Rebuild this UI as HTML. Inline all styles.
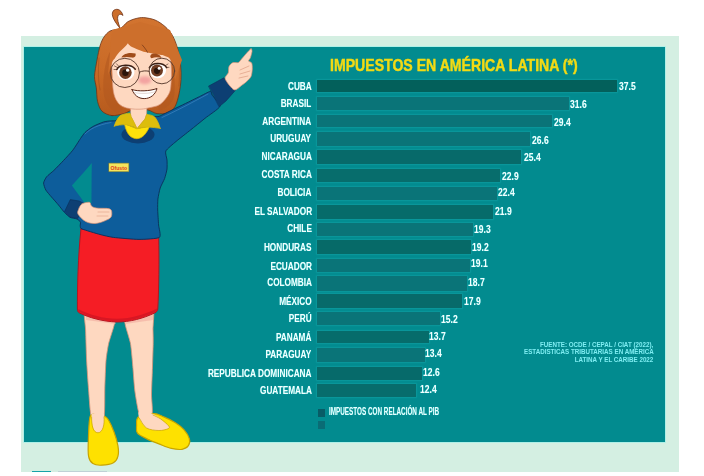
<!DOCTYPE html>
<html><head><meta charset="utf-8"><style>
*{margin:0;padding:0;box-sizing:border-box}
html,body{width:704px;height:476px;overflow:hidden;background:#fff;font-family:"Liberation Sans", sans-serif}
#outer{position:absolute;left:21.1px;top:35.6px;width:657.6px;height:436.2px;background:#d4efe2}
#panel{position:absolute;left:23.9px;top:46.7px;width:641.3px;height:395.6px;background:#028b8f;box-shadow:0 0 0 .8px rgba(150,240,235,.75)}
.bar{position:absolute;left:317px;background:#07716f;box-shadow:0 0 1.2px .6px rgba(25,170,175,.45)}
.lbl{position:absolute;right:392.4px;height:0;line-height:0;white-space:nowrap;font-weight:bold;font-size:10.3px;color:#f2ffff;text-shadow:0 0 1px rgba(110,255,255,.55);transform:scaleX(.80);transform-origin:right center}
.val{position:absolute;height:0;line-height:0;white-space:nowrap;font-weight:bold;font-size:10.3px;color:#f2ffff;text-shadow:0 0 1px rgba(110,255,255,.55);transform:scaleX(.83);transform-origin:left center}
#title{position:absolute;left:330px;top:64.82px;height:0;line-height:0;white-space:nowrap;font-weight:bold;font-size:16.4px;color:#f2da14;-webkit-text-stroke:.45px #f2da14;transform:scaleX(.86);transform-origin:left center}
.src{position:absolute;right:50.4px;height:0;line-height:0;white-space:nowrap;font-weight:bold;font-size:7px;color:#7eedf2;transform:scaleX(.89);transform-origin:right center}
#leg{position:absolute;left:328.9px;top:412.00px;height:0;line-height:0;white-space:nowrap;font-weight:bold;font-size:10.4px;color:#eaffff;text-shadow:0 0 1px rgba(110,255,255,.5);transform:scaleX(.61);transform-origin:left center}
.sq{position:absolute;left:317.5px;width:7.5px;height:8px}
svg{position:absolute;left:0;top:0}
</style></head><body>
<div id="outer"></div>
<div id="panel"></div>
<div id="title">IMPUESTOS EN AMÉRICA LATINA (*)</div>
<div class="bar" style="top:80px;height:12px;width:300.0px;background:#03605b"></div>
<div class="lbl" style="top:86.63px">CUBA</div>
<div class="val" style="top:87.08px;left:619.1px">37.5</div>
<div class="bar" style="top:97px;height:13px;width:251.9px;background:#0a7478"></div>
<div class="lbl" style="top:103.83px">BRASIL</div>
<div class="val" style="top:104.53px;left:570.2px">31.6</div>
<div class="bar" style="top:115px;height:12px;width:235.2px;background:#0a7478"></div>
<div class="lbl" style="top:122.23px">ARGENTINA</div>
<div class="val" style="top:123.01px;left:553.5px">29.4</div>
<div class="bar" style="top:132px;height:14px;width:213.0px;background:#0a7478"></div>
<div class="lbl" style="top:138.63px">URUGUAY</div>
<div class="val" style="top:140.98px;left:531.8px">26.6</div>
<div class="bar" style="top:150px;height:14px;width:203.6px;background:#076a6a"></div>
<div class="lbl" style="top:157.23px">NICARAGUA</div>
<div class="val" style="top:157.98px;left:523.5px">25.4</div>
<div class="bar" style="top:169px;height:13px;width:182.8px;background:#076d6c"></div>
<div class="lbl" style="top:174.63px">COSTA RICA</div>
<div class="val" style="top:176.83px;left:502.3px">22.9</div>
<div class="bar" style="top:187px;height:13px;width:179.8px;background:#0a7478"></div>
<div class="lbl" style="top:193.23px">BOLICIA</div>
<div class="val" style="top:193.13px;left:498.3px">22.4</div>
<div class="bar" style="top:205px;height:14px;width:176.2px;background:#066b6a"></div>
<div class="lbl" style="top:211.83px">EL SALVADOR</div>
<div class="val" style="top:211.53px;left:494.8px">21.9</div>
<div class="bar" style="top:223px;height:13px;width:156.3px;background:#0a7478"></div>
<div class="lbl" style="top:229.43px">CHILE</div>
<div class="val" style="top:229.58px;left:474.1px">19.3</div>
<div class="bar" style="top:240px;height:14px;width:154.1px;background:#066a68"></div>
<div class="lbl" style="top:247.93px">HONDURAS</div>
<div class="val" style="top:247.73px;left:472.0px">19.2</div>
<div class="bar" style="top:259px;height:13px;width:153.0px;background:#0a7478"></div>
<div class="lbl" style="top:267.03px">ECUADOR</div>
<div class="val" style="top:264.48px;left:471.4px">19.1</div>
<div class="bar" style="top:276px;height:15px;width:150.2px;background:#0a7478"></div>
<div class="lbl" style="top:283.43px">COLOMBIA</div>
<div class="val" style="top:283.48px;left:467.8px">18.7</div>
<div class="bar" style="top:294px;height:14px;width:144.7px;background:#076a6a"></div>
<div class="lbl" style="top:302.03px">MÉXICO</div>
<div class="val" style="top:301.53px;left:463.9px">17.9</div>
<div class="bar" style="top:312px;height:13px;width:122.7px;background:#0a7478"></div>
<div class="lbl" style="top:318.83px">PERÚ</div>
<div class="val" style="top:319.58px;left:440.7px">15.2</div>
<div class="bar" style="top:331px;height:12px;width:111.6px;background:#066c6b"></div>
<div class="lbl" style="top:338.03px">PANAMÁ</div>
<div class="val" style="top:337.18px;left:428.7px">13.7</div>
<div class="bar" style="top:348px;height:14px;width:108.2px;background:#0a7478"></div>
<div class="lbl" style="top:354.83px">PARAGUAY</div>
<div class="val" style="top:354.28px;left:425.4px">13.4</div>
<div class="bar" style="top:367px;height:13px;width:104.5px;background:#066a6a"></div>
<div class="lbl" style="top:373.63px">REPUBLICA DOMINICANA</div>
<div class="val" style="top:372.88px;left:423.1px">12.6</div>
<div class="bar" style="top:384px;height:13px;width:98.8px;background:#076c6c"></div>
<div class="lbl" style="top:391.03px">GUATEMALA</div>
<div class="val" style="top:390.18px;left:419.9px">12.4</div>
<div class="src" style="top:344.57px">FUENTE: OCDE / CEPAL / CIAT (2022),</div>
<div class="src" style="top:352.07px">ESTADISTICAS TRIBUTARIAS EN AMÉRICA</div>
<div class="src" style="top:359.77px">LATINA Y EL CARIBE 2022</div>
<div class="sq" style="top:408.7px;background:#085c66"></div>
<div class="sq" style="top:420.7px;background:#0a6c75"></div>
<div id="leg">IMPUESTOS CON RELACIÓN AL PIB</div>
<div style="position:absolute;left:31.5px;top:470.8px;width:19px;height:1.6px;background:#16a3a8"></div>
<div style="position:absolute;left:57.5px;top:470.8px;width:49px;height:1.4px;background:#b9cbd3;opacity:.8"></div>
<svg width="704" height="476" viewBox="0 0 704 476">
<defs><linearGradient id="hg" x1="0" y1="0" x2="0" y2="1"><stop offset="0" stop-color="#d27430"/><stop offset=".55" stop-color="#c96a26"/><stop offset="1" stop-color="#b65a1d"/></linearGradient><filter id="bl" x="-50%" y="-50%" width="200%" height="200%"><feGaussianBlur stdDeviation="1.6"/></filter></defs>
<g stroke-linejoin="round" stroke-linecap="round">
<path d="M85.0,300.0 C88.0,297.0 112.5,297.7 115.5,300.0 C118.5,302.3 115.2,319.0 114.5,323.4 C113.8,327.8 109.4,339.9 108.6,343.6 C107.8,347.3 106.4,356.0 106.0,360.4 C105.6,364.8 105.0,382.2 104.8,388.0 C104.6,393.8 105.1,415.0 103.8,418.0 C102.5,421.0 93.1,420.8 91.6,418.0 C90.1,415.2 89.1,395.8 88.6,390.0 C88.1,384.2 86.9,366.0 86.6,360.0 C86.3,354.0 85.8,336.0 85.6,330.0 C85.4,324.0 82.0,303.0 85.0,300.0Z" fill="#fed8c0" stroke="#d89478" stroke-width=".8"/>
<path d="M124.0,300.0 C126.8,297.7 149.6,297.0 152.5,300.0 C155.4,303.0 152.9,325.6 153.0,330.0 C153.1,334.4 153.3,339.4 153.2,343.6 C153.1,347.8 152.5,366.9 152.3,372.0 C152.1,377.1 151.5,390.8 151.5,395.0 C151.5,399.2 153.1,411.8 152.0,414.0 C150.9,416.2 141.9,419.2 140.2,417.0 C138.5,414.8 135.7,396.8 135.0,392.0 C134.3,387.2 133.4,373.6 133.0,368.8 C132.6,364.0 131.3,348.1 130.5,343.6 C129.7,339.1 125.7,327.8 125.0,323.4 C124.3,319.0 121.2,302.3 124.0,300.0Z" fill="#fed8c0" stroke="#d89478" stroke-width=".8"/>
<path d="M90.2,416.3 C88.8,420.2 88.7,431.9 88.4,438.6 C88.1,445.3 87.8,452.2 88.6,456.4 C89.3,460.6 90.7,462.1 92.9,463.6 C95.1,465.1 98.4,465.4 101.8,465.2 C105.2,465.0 110.7,464.2 113.4,462.7 C116.1,461.2 117.2,459.2 117.9,456.4 C118.7,453.6 118.6,449.8 117.9,445.7 C117.2,441.6 115.6,436.3 114.0,432.0 C112.4,427.7 110.1,422.6 108.5,420.0 C106.9,417.4 106.4,417.1 104.5,416.3 C102.6,415.5 99.4,415.0 97.0,415.0 C94.6,415.0 91.6,412.4 90.2,416.3Z" fill="#fee100" stroke="#c8a400" stroke-width="1.2"/>
<path d="M91.5,414 L104,414 C105,424 103,432.5 98,432.8 C93,432.5 91.5,424 91.5,414Z" fill="#fed8c0"/>
<path d="M91.6,417 C91.6,426 93,432.5 98,432.8 C103,432.5 104.8,424 104,417" fill="none" stroke="#c8a400" stroke-width=".7"/>
<path d="M138.4,417.1 C135.6,419.2 136.8,423.3 136.6,426.0 C136.4,428.7 135.9,431.1 137.5,433.2 C139.1,435.3 142.8,436.8 146.4,438.6 C150.0,440.4 154.7,442.3 158.9,443.9 C163.1,445.5 167.5,447.5 171.4,448.4 C175.3,449.3 179.3,449.8 182.1,449.3 C184.9,448.9 187.2,447.5 188.4,445.7 C189.6,443.9 190.1,441.3 189.3,438.6 C188.6,435.9 186.3,432.3 183.9,429.6 C181.5,426.9 178.3,424.6 175.0,422.5 C171.7,420.4 167.9,418.6 164.3,417.1 C160.7,415.6 157.9,413.6 153.6,413.6 C149.3,413.6 141.2,415.0 138.4,417.1Z" fill="#fee100" stroke="#c8a400" stroke-width="1.2"/>
<path d="M139.3,418.0 C140.4,420.8 143.1,425.8 146.4,427.9 C149.7,430.0 155.3,430.4 158.9,430.5 C162.5,430.6 166.3,429.5 167.9,428.8 C169.5,428.0 169.9,427.6 168.8,426.0 C167.6,424.4 163.5,421.1 160.7,419.0 C157.9,416.9 155.2,414.9 151.8,413.6 C148.4,412.3 142.1,410.3 140.0,411.0 C137.9,411.7 138.2,415.2 139.3,418.0Z" fill="#fed8c0"/>
<path d="M139.3,418.0 C140.5,419.6 143.1,425.8 146.4,427.9 C149.7,430.0 155.3,430.4 158.9,430.5 C162.5,430.6 166.3,429.5 167.9,428.8 C169.5,428.0 169.9,427.6 168.8,426.0 C167.6,424.4 163.3,420.8 160.7,419.0 C158.1,417.2 154.3,415.7 153.0,415.0" fill="none" stroke="#c8a400" stroke-width=".7"/>
<path d="M85,312 L115,318 L115.5,324 L86,320Z M125,318 L153,311 L153.2,320 L125,324Z" fill="#f4b7a6" opacity=".8"/>
<path d="M81,229 L158.6,236 C159.3,260 158.8,290 157.8,309 C157.5,311 156.5,312 155,312.8 C143,318.5 130,322 117,322 C102,321.5 89,317.5 79.5,313 C78,312.3 77.4,311 77.4,309 C77.3,290 78,255 81,229Z" fill="#f51d25" stroke="#b51520" stroke-width="1"/>
<path d="M78.5,311.5 C90,317.5 103,320.8 117,321.2 C131,321.2 145,317 156.8,311 L157,308.5 C145,314.5 131,318.6 117,318.8 C103,318.6 90,315 78.2,309Z" fill="#cc1422" opacity=".7"/>
<path d="M112.0,115.6 C108.7,115.3 104.2,113.3 102.0,111.2 C99.8,109.1 98.5,105.1 97.6,101.6 C96.7,98.1 96.8,91.5 96.3,87.7 C95.8,83.9 94.4,80.6 94.5,76.4 C94.6,72.2 96.2,64.6 97.0,60.0 C97.8,55.4 99.0,49.5 100.0,46.0 C101.0,42.5 102.5,39.2 104.0,37.0 C105.5,34.8 107.6,32.3 110.0,31.0 C112.4,29.7 117.5,30.0 120.2,28.6 C122.9,27.2 125.3,23.3 127.7,21.8 C130.1,20.3 133.7,19.1 136.1,18.5 C138.5,17.9 140.9,17.4 143.7,17.6 C146.5,17.8 151.8,18.7 155.0,20.0 C158.2,21.3 162.4,24.2 165.0,26.5 C167.6,28.8 170.6,32.1 172.5,35.5 C174.4,38.9 176.5,44.6 177.7,49.0 C178.9,53.4 180.1,60.4 180.6,65.0 C181.1,69.6 181.2,75.1 181.0,79.4 C180.8,83.8 179.9,89.9 179.0,94.0 C178.1,98.1 176.7,103.7 175.0,106.5 C173.3,109.3 170.7,111.7 168.0,112.8 C165.3,113.9 160.0,114.0 157.0,113.6 C154.0,113.2 151.3,110.7 148.0,110.0 C144.7,109.3 138.6,108.5 135.0,109.0 C131.4,109.5 127.5,112.5 124.0,113.5 C120.5,114.5 115.3,115.9 112.0,115.6Z" fill="url(#hg)" stroke="#6e3418" stroke-width=".8"/>
<path d="M120.2,28.6 C115,22 110.5,15.5 113,11.2 C115.5,8 121,8.5 123,15.5 C120.5,13.2 117.5,14 117.6,18.5 C117.8,22.5 119.5,26 120.2,28.6Z" fill="#cd6f2c" stroke="#6e3418" stroke-width=".8"/>
<path d="M111,50 C105,60 102.5,78 103.5,92 C104.5,102 109,109 117,113 L123,109 C116.5,104 113.2,96 112.5,85 L112.2,62Z" fill="#b3581f" opacity=".6"/>
<path d="M169,52 C174,66 176,84 174,97 C172,104 166,108.5 159,110.5 L158,105.5 C165,101 170,92 171,82 L171,62Z" fill="#b3581f" opacity=".6"/>
<path d="M99,58 C98,70 98,80 100,90 M176,48 C179,60 180,72 179,86" stroke="#9a4a18" stroke-width=".7" fill="none" opacity=".7"/>
<path d="M121.0,117.0 C117.3,117.4 116.8,120.2 115.8,120.6 C114.8,121.0 111.7,120.8 110.5,120.9 C109.3,121.0 105.2,121.4 103.4,122.0 C101.6,122.6 94.6,125.5 92.8,126.6 C91.0,127.6 86.2,131.3 85.0,132.5 C83.8,133.7 81.7,136.7 80.5,138.5 C79.3,140.3 74.5,148.0 72.8,150.2 C71.1,152.4 65.4,158.5 63.5,160.5 C61.6,162.5 55.6,168.8 53.9,170.4 C52.2,172.0 47.6,175.5 46.6,176.8 C45.6,178.1 43.7,181.7 43.6,183.0 C43.5,184.3 45.0,188.6 45.8,190.0 C46.6,191.4 50.2,195.5 51.5,197.0 C52.8,198.5 57.2,203.4 58.5,205.0 C59.8,206.6 63.4,211.3 64.5,212.5 C65.7,213.7 68.8,216.7 70.0,217.3 C71.2,218.0 76.0,218.5 77.0,219.0 C78.0,219.5 80.2,221.3 80.5,222.0 C80.8,222.7 80.0,225.3 80.2,226.0 C80.4,226.7 80.0,228.2 82.0,229.0 C84.0,229.8 96.9,233.7 100.0,234.5 C103.1,235.3 109.5,236.9 113.4,237.4 C117.3,237.9 134.4,239.4 139.0,239.4 C143.6,239.4 157.4,238.8 159.4,237.4 C161.4,236.0 158.8,227.7 158.6,225.0 C158.4,222.3 157.8,212.6 157.7,210.0 C157.6,207.4 157.7,201.2 157.9,199.0 C158.2,196.8 159.5,190.1 160.2,188.0 C160.9,185.9 163.9,180.4 164.6,178.5 C165.3,176.6 166.8,170.8 167.0,169.0 C167.2,167.2 167.1,161.8 167.0,160.0 C166.9,158.2 164.9,152.8 165.8,151.0 C166.7,149.2 173.5,143.6 176.0,141.5 C178.5,139.4 187.6,132.3 190.5,130.0 C193.4,127.7 202.1,120.7 205.0,118.3 C207.9,115.9 219.3,108.6 220.0,106.3 C220.7,104.0 213.0,96.5 212.0,95.0 C211.0,93.5 211.7,91.1 210.4,91.3 C209.1,91.5 201.8,95.5 199.3,96.7 C196.8,97.9 188.4,102.1 185.7,103.4 C183.0,104.7 174.7,108.7 172.0,110.0 C169.3,111.3 161.1,115.6 159.2,116.3 C157.3,117.0 156.8,116.4 153.0,116.5 C149.2,116.6 124.7,116.6 121.0,117.0Z" fill="#0d5d9b" stroke="#0a2f5a" stroke-width=".9"/>
<path d="M91.8,163 C85,171 78,179 71.9,185.4 C75,190 80,196 84.5,203 L91.5,203 C91.5,190 91.6,176 91.8,163Z" fill="#028b8f"/>
<path d="M85,134 C90,129 97,125 111,122.5 M162,117.5 C175,111.5 190,103.8 208,94" stroke="#4a8fcc" stroke-width="1" fill="none" opacity=".55"/>
<ellipse cx="138" cy="134.5" rx="16.5" ry="9" fill="#0d3f73"/>
<path d="M64.6,211.5 L70.3,199.6 L79.1,201.0 L84.0,203.6 L77.8,218.4 L70.5,217.2Z" fill="#0d3f73" stroke="#0a2f5a" stroke-width=".6"/>
<path d="M208.8,86.0 L223.9,77.8 L235.3,90.4 L226.0,101.0 L219.3,106.5Z" fill="#0d3f73" stroke="#0a2f5a" stroke-width=".6"/>
<path d="M82.0,203.9 C83.8,202.8 87.8,202.0 89.4,202.3 C91.0,202.7 90.3,205.0 91.5,206.0 C92.7,207.0 93.8,207.6 96.8,208.1 C99.8,208.6 106.9,207.9 109.4,208.8 C111.9,209.7 111.8,211.8 111.8,213.4 C111.8,215.0 111.9,216.9 109.4,218.6 C106.9,220.2 100.7,222.8 96.8,223.3 C92.9,223.8 89.4,223.3 86.3,221.8 C83.2,220.3 79.5,216.5 78.2,214.4 C76.9,212.3 78.0,210.9 78.6,209.2 C79.2,207.4 80.2,205.1 82.0,203.9Z" fill="#fed8c0" stroke="#d89478" stroke-width=".7"/>
<path d="M251.0,48.8 C251.7,48.6 252.1,50.3 252.0,51.5 C251.9,52.7 250.9,56.4 250.4,57.7 C249.9,59.0 248.3,60.3 248.5,61.0 C248.7,61.7 251.2,61.9 251.7,63.0 C252.2,64.1 252.4,67.2 252.3,69.0 C252.2,70.8 251.8,74.9 251.0,76.6 C250.2,78.3 247.9,80.4 246.6,81.6 C245.3,82.8 243.3,84.3 241.6,85.4 C239.9,86.5 236.2,90.7 234.0,89.8 C231.8,88.9 226.0,81.3 225.2,79.0 C224.4,76.7 227.8,74.5 228.3,72.8 C228.8,71.1 228.4,67.8 229.0,66.5 C229.6,65.2 231.4,63.2 232.7,62.7 C234.0,62.2 237.2,63.0 238.4,62.5 C239.6,62.0 240.5,60.2 241.6,59.0 C242.7,57.8 245.3,54.6 246.6,53.2 C247.9,51.8 250.3,49.0 251.0,48.8Z" fill="#fed8c0" stroke="#d89478" stroke-width=".7"/>
<path d="M240,70 L249,66 M240,74 L250,71 M239,78 L248,76" stroke="#d89478" stroke-width=".6" fill="none"/>
<path d="M98,212 L109,212 M97,216 L108,216" stroke="#d89478" stroke-width=".5" fill="none"/>
<path d="M130,100 L147,100 L146.6,114.4 L145,119.1 L137,128.7 L131,116.8 Z" fill="#fed8c0" stroke="#d89478" stroke-width=".6"/>
<path d="M124.5,124 C125.5,129 127,133 130,136 C132.5,138 135,138.8 137,138.7 C140,138.5 142.5,137 144.5,134.8 C146.8,132 148.3,129.5 149.5,126.5 L137,128.7 Z" fill="#ffe20a" stroke="#d8b80a" stroke-width=".8"/>
<path d="M114.3,126 C115.5,122 117.5,118 120.3,115.6 C123.5,114 127,113.3 129.9,113.2 C130.5,114.5 131,115.5 131.2,116.8 C133.5,121 135.5,125 137,128.7 C133,126.5 129,125 125,124.6 C121.5,124.6 117.5,125.2 114.3,126Z" fill="#dcbd0c" stroke="#d8b80a" stroke-width=".8"/>
<path d="M160.2,128.3 C159,124 157,119.5 154.5,116.8 C152,115.2 149,114.5 146.6,114.4 C146,116 145.6,117.5 145,119.1 C142,122.5 139.5,125.5 137,128.7 C141,127.2 145,126.8 149,127 C152.5,127.3 156.5,127.8 160.2,128.3Z" fill="#dcbd0c" stroke="#d8b80a" stroke-width=".8"/>
<rect x="109" y="163.2" width="19.8" height="8.4" fill="#f6e45c" stroke="#9a8a20" stroke-width=".5"/>
<text x="110.6" y="170.2" font-size="6" font-weight="bold" font-family="Liberation Sans" fill="#e0381c" textLength="16.4" lengthAdjust="spacingAndGlyphs">Ofusto</text>
<path d="M112.0,60.0 C111.3,64.1 111.9,67.3 112.1,72.6 C112.3,77.8 112.6,86.7 113.4,91.5 C114.2,96.3 115.6,99.1 117.2,101.6 C118.8,104.1 120.5,105.4 122.8,106.6 C125.1,107.8 128.1,108.4 131.0,108.8 C133.9,109.2 137.2,109.3 140.0,109.2 C142.8,109.1 144.7,108.8 148.0,108.0 C151.3,107.2 156.5,106.7 160.0,104.4 C163.5,102.1 167.0,97.4 168.8,94.0 C170.6,90.6 170.6,88.5 171.0,83.8 C171.4,79.1 171.7,71.6 171.2,66.0 C170.7,60.4 171.5,54.3 168.0,50.0 C164.5,45.7 156.7,41.7 150.0,40.0 C143.3,38.3 133.7,38.7 128.0,40.0 C122.3,41.3 118.7,44.7 116.0,48.0 C113.3,51.3 112.7,55.9 112.0,60.0Z" fill="#fed8c0" stroke="#d89478" stroke-width=".7"/>
<ellipse cx="144.8" cy="80.2" rx="6.5" ry="4" fill="#f3a3a0" filter="url(#bl)"/>
<path d="M108,75 L111.5,64 C112.5,61 113,60 114.6,58.8 C116.5,55 119,52.5 121,50.5 C123.5,48 126,46 127.9,43.3 C129,45 130,46 132,47 C135,48.5 139,50 142.3,51.3 C144,52 146,52.4 147.6,52.4 C151,53 154,53.8 156.1,54 C159,54.5 161,55 162.5,55 C165,56 167.5,57 168.9,57.7 C171,60 172.5,63 173.2,65.2 L175,80 L182,60 L170,30 L140,22 L112,30 Z" fill="#cd6f2c"/>
<path d="M142.3,45 C145,48 146.5,50.5 147.6,52.4" stroke="#6e3418" stroke-width=".7" fill="none"/>
<path d="M121.3,57.6 C123.5,53.4 130,52.2 135.6,53.6 C136.2,56.2 134.6,58 132,57.6 C128,56.6 125,56.9 121.3,57.6Z" fill="#a04c1a"/>
<path d="M150.3,56 C150.8,53.8 153,53.3 155,53.4 C158,53.6 160.5,55.3 161.6,58 C158.5,57.2 155,57 151.5,58.2 C150.6,57.8 150.3,57 150.3,56Z" fill="#a04c1a"/>
<ellipse cx="125.8" cy="72.4" rx="8.6" ry="7.4" fill="#fff"/>
<ellipse cx="157.8" cy="70.6" rx="8.2" ry="7.6" fill="#fff"/>
<circle cx="125.4" cy="72.6" r="6.3" fill="#6e3b22"/>
<circle cx="157" cy="70.6" r="6" fill="#6e3b22"/>
<circle cx="125.4" cy="72.8" r="3.2" fill="#2a140b"/>
<circle cx="157" cy="70.8" r="3.1" fill="#2a140b"/>
<circle cx="127.6" cy="70.2" r="1.6" fill="#fff"/>
<circle cx="159.2" cy="68.3" r="1.5" fill="#fff"/>
<path d="M116.8,69.5 C119,64.3 131,63.3 135.3,69.2" stroke="#3a2016" stroke-width="1.5" fill="none"/><path d="M117.5,67.5 L114.5,66 M117,69.5 L114,69.5 M118.5,66 L116.5,63.8" stroke="#3a2016" stroke-width=".6"/>
<path d="M149.3,67.8 C152,62.3 163,62.1 166.7,67.6" stroke="#3a2016" stroke-width="1.5" fill="none"/><path d="M165.5,65.5 L168,64 M166.3,67.5 L169,67.3" stroke="#3a2016" stroke-width=".6"/>
<circle cx="124.9" cy="72.9" r="14.6" fill="none" stroke="#5b3d30" stroke-width=".95"/>
<circle cx="161.9" cy="71" r="12.8" fill="none" stroke="#5b3d30" stroke-width=".95"/>
<path d="M139.4,72.2 C142.5,70.6 146,70.6 149.2,71.3" stroke="#5b3d30" stroke-width="1" fill="none"/>
<path d="M132,89.6 C138,91.6 150,91.2 157,88.5 C155.5,94.5 150.5,98.6 144.2,98.6 C138.2,98.6 134,95 132,89.6Z" fill="#fff" stroke="#5a2616" stroke-width="1"/>
<path d="M134,92.5 C140,94 150,93.8 155.5,91.5" stroke="#c9b0a8" stroke-width=".5" fill="none"/>
</g></svg>
</body></html>
